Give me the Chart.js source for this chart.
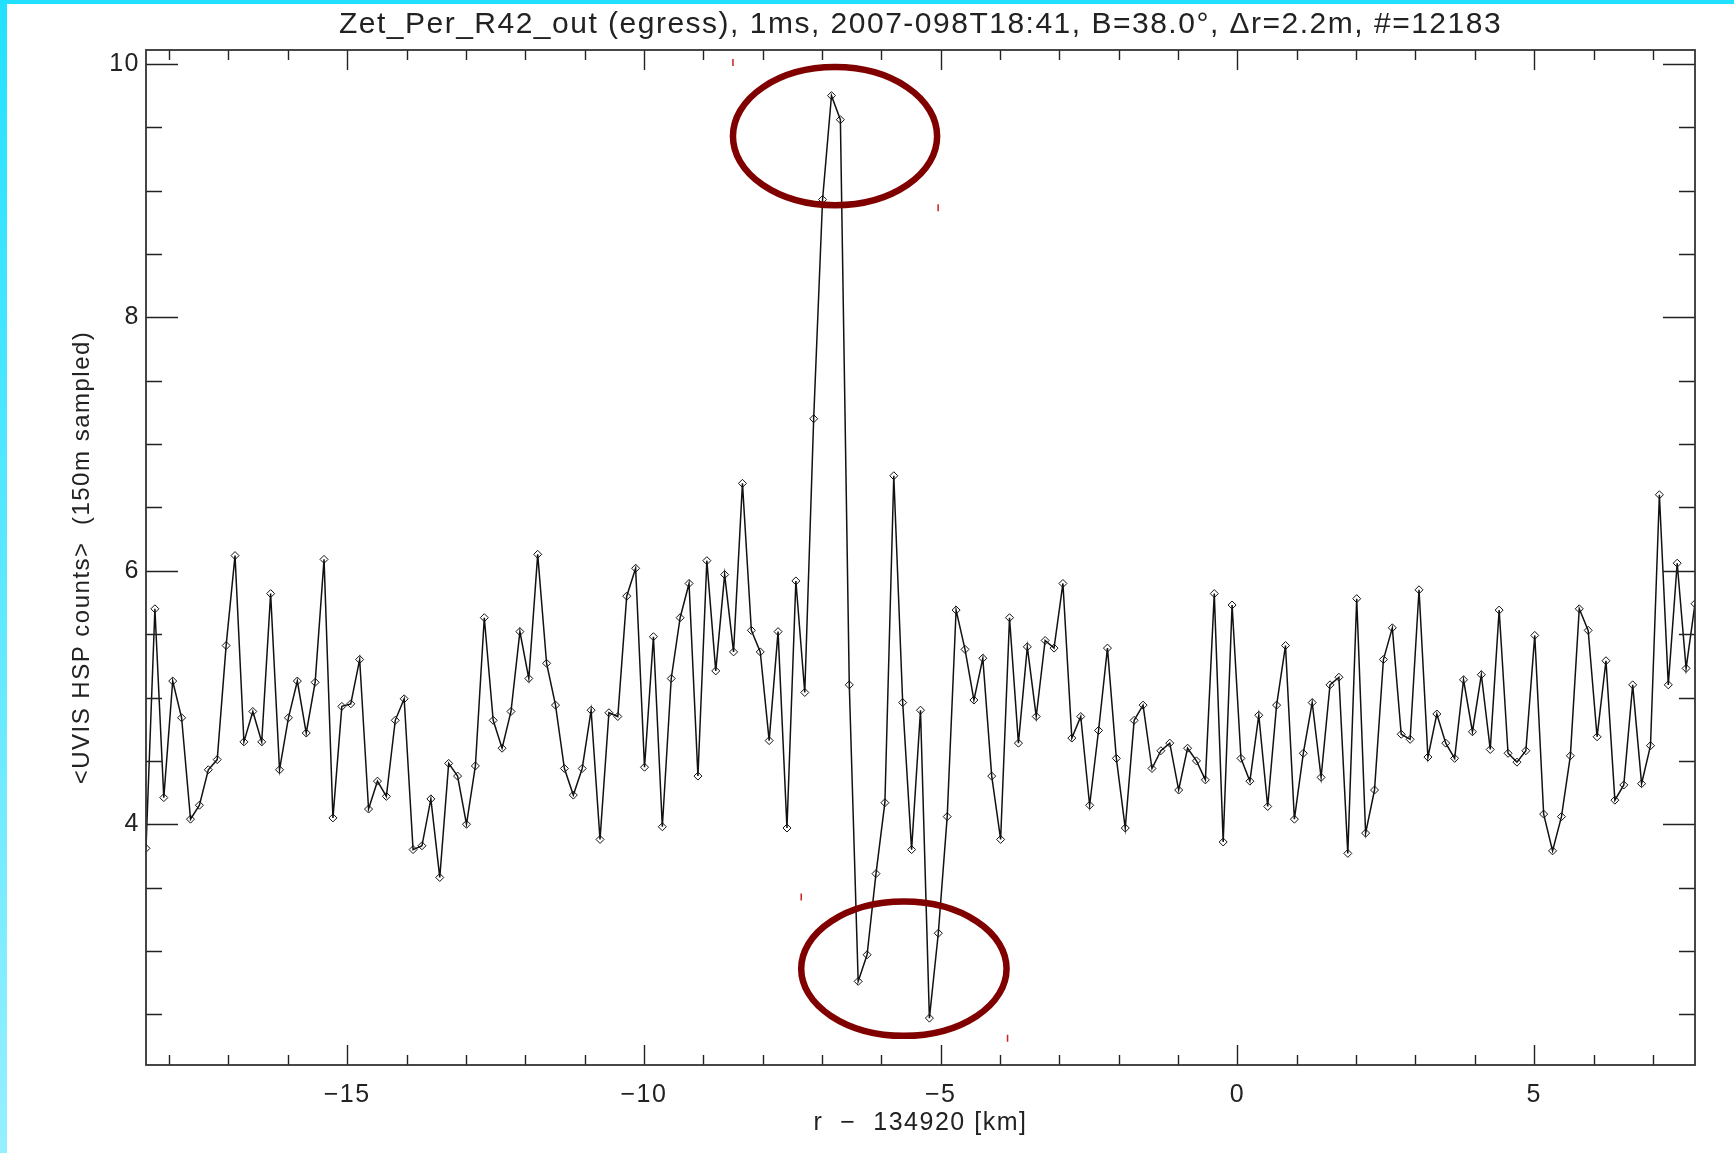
<!DOCTYPE html>
<html>
<head>
<meta charset="utf-8">
<script src="https://cdn.jsdelivr.net/npm/chart.js@4.4.0/dist/chart.umd.min.js"></script>
<style>
  html, body { margin: 0; padding: 0; background: #fff; overflow: hidden; }
  canvas { display: block; }
</style>
</head>
<body>
<canvas id="profile" width="1734" height="1153"></canvas>
<script>
// Radial position of each 150 m sample, r - 134920 km
const radiusKm = [
  -18.39, -18.24, -18.09, -17.94, -17.79, -17.64, -17.49, -17.34, -17.19, -17.04,
  -16.89, -16.74, -16.59, -16.44, -16.29, -16.14, -15.99, -15.84, -15.69, -15.54,
  -15.39, -15.24, -15.09, -14.94, -14.79, -14.64, -14.49, -14.34, -14.19, -14.04,
  -13.89, -13.74, -13.59, -13.44, -13.29, -13.14, -12.99, -12.84, -12.69, -12.54,
  -12.39, -12.24, -12.09, -11.94, -11.79, -11.64, -11.49, -11.34, -11.19, -11.04,
  -10.89, -10.74, -10.59, -10.44, -10.29, -10.14, -9.99, -9.84, -9.69, -9.54,
  -9.39, -9.24, -9.09, -8.94, -8.79, -8.64, -8.49, -8.34, -8.19, -8.04,
  -7.89, -7.74, -7.59, -7.44, -7.29, -7.14, -6.99, -6.84, -6.69, -6.54,
  -6.39, -6.24, -6.09, -5.94, -5.79, -5.64, -5.49, -5.34, -5.19, -5.04,
  -4.89, -4.74, -4.59, -4.44, -4.29, -4.14, -3.99, -3.84, -3.69, -3.54,
  -3.39, -3.24, -3.09, -2.94, -2.79, -2.64, -2.49, -2.34, -2.19, -2.04,
  -1.89, -1.74, -1.59, -1.44, -1.29, -1.14, -0.99, -0.84, -0.69, -0.54,
  -0.39, -0.24, -0.09, 0.06, 0.21, 0.36, 0.51, 0.66, 0.81, 0.96,
  1.11, 1.26, 1.41, 1.56, 1.71, 1.86, 2.01, 2.16, 2.31, 2.46,
  2.61, 2.76, 2.91, 3.06, 3.21, 3.36, 3.51, 3.66, 3.81, 3.96,
  4.11, 4.26, 4.41, 4.56, 4.71, 4.86, 5.01, 5.16, 5.31, 5.46,
  5.61, 5.76, 5.91, 6.06, 6.21, 6.36, 6.51, 6.66, 6.81, 6.96,
  7.11, 7.26, 7.41, 7.56, 7.71
];

// Mean UVIS HSP counts per sample
const hspCounts = [
  3.81, 5.70, 4.21, 5.13, 4.84, 4.04, 4.15, 4.43, 4.51, 5.41,
  6.12, 4.65, 4.89, 4.65, 5.82, 4.43, 4.84, 5.13, 4.72, 5.12,
  6.09, 4.05, 4.93, 4.95, 5.30, 4.12, 4.34, 4.22, 4.82, 4.99,
  3.80, 3.83, 4.20, 3.58, 4.48, 4.38, 4.00, 4.46, 5.63, 4.82,
  4.60, 4.89, 5.52, 5.15, 6.13, 5.27, 4.94, 4.44, 4.23, 4.44,
  4.90, 3.88, 4.88, 4.85, 5.80, 6.02, 4.45, 5.48, 3.98, 5.15,
  5.63, 5.90, 4.38, 6.08, 5.21, 5.97, 5.36, 6.69, 5.53, 5.36,
  4.66, 5.52, 3.97, 5.92, 5.04, 7.20, 8.93, 9.75, 9.56, 5.10,
  2.76, 2.97, 3.61, 4.17, 6.75, 4.96, 3.80, 4.90, 2.47, 3.14,
  4.06, 5.69, 5.38, 4.98, 5.31, 4.38, 3.88, 5.63, 4.64, 5.40,
  4.85, 5.45, 5.39, 5.90, 4.68, 4.85, 4.15, 4.74, 5.39, 4.52,
  3.97, 4.82, 4.94, 4.44, 4.58, 4.64, 4.27, 4.60, 4.50, 4.35,
  5.82, 3.86, 5.73, 4.52, 4.34, 4.86, 4.14, 4.94, 5.41, 4.04,
  4.56, 4.96, 4.37, 5.10, 5.16, 3.77, 5.78, 3.93, 4.27, 5.30,
  5.55, 4.71, 4.67, 5.85, 4.53, 4.87, 4.64, 4.52, 5.14, 4.73,
  5.18, 4.59, 5.69, 4.56, 4.49, 4.58, 5.49, 4.08, 3.79, 4.06,
  4.54, 5.70, 5.53, 4.69, 5.29, 4.19, 4.31, 5.10, 4.32, 4.62,
  6.60, 5.10, 6.06, 5.23, 5.74
];

// Axis extents and tick steps
const rRange = [-18.39, 7.71];
const countRange = [2.1, 10.11];
const rMajorStep = 5, rMinorStep = 1;
const countMajorStep = 2, countMinorStep = 0.5;

// Highlighted features: centre (r, counts) and half-widths (km, counts)
const highlightCentersR = [-6.78, -5.62];
const highlightCentersCounts = [9.43, 2.86];
const highlightHalfWidthR = [1.72, 1.73];
const highlightHalfHeightCounts = [0.545, 0.53];

const titleText = 'Zet_Per_R42_out (egress), 1ms, 2007-098T18:41, B=38.0\u00b0, \u0394r=2.2m, #=12183';
const xTitle = 'r  \u2212  134920 [km]';
const yTitle = '<UVIS HSP counts>  (150m sampled)';

const points = radiusKm.map((r, i) => ({ x: r, y: hspCounts[i] }));

const FONT = "'Liberation Sans', Arial, sans-serif";
const INK = '#222';

// Page frame, inward IDL-style ticks and ring annotations
const plotDecor = {
  id: 'plotDecor',
  beforeDraw(chart) {
    const { ctx, width, height } = chart;
    ctx.save();
    ctx.fillStyle = '#fff';
    ctx.fillRect(0, 0, width, height);
    const g = ctx.createLinearGradient(0, 0, 0, height);
    g.addColorStop(0, '#22e1ff');
    g.addColorStop(1, '#95efff');
    ctx.fillStyle = g;
    ctx.fillRect(0, 0, 7, height);
    ctx.fillStyle = '#22e1ff';
    ctx.fillRect(0, 0, width, 4);
    ctx.restore();
    // the plot's lettering is widely spaced
    ctx.letterSpacing = '1.5px';
  },
  afterDatasetsDraw(chart) {
    const { ctx, chartArea: { left, right, top, bottom }, scales: { x, y } } = chart;
    ctx.save();
    ctx.strokeStyle = INK;
    ctx.lineWidth = 1.4;
    ctx.beginPath();
    const xMajorLen = 20, yMajorLen = 32;
    for (let v = Math.ceil(x.min / rMinorStep) * rMinorStep; v <= x.max + 1e-9; v += rMinorStep) {
      const px = Math.round(x.getPixelForValue(v)) + 0.5;
      const major = Math.abs(v / rMajorStep - Math.round(v / rMajorStep)) < 1e-6;
      const len = major ? xMajorLen : xMajorLen / 2;
      ctx.moveTo(px, bottom); ctx.lineTo(px, bottom - len);
      ctx.moveTo(px, top); ctx.lineTo(px, top + len);
    }
    for (let v = Math.ceil(y.min / countMinorStep) * countMinorStep; v <= y.max + 1e-9; v += countMinorStep) {
      const py = Math.round(y.getPixelForValue(v)) + 0.5;
      const major = Math.abs(v / countMajorStep - Math.round(v / countMajorStep)) < 1e-6;
      const len = major ? yMajorLen : yMajorLen / 2;
      ctx.moveTo(left, py); ctx.lineTo(left + len, py);
      ctx.moveTo(right, py); ctx.lineTo(right - len, py);
    }
    ctx.stroke();
    ctx.lineWidth = 1.8;
    ctx.strokeStyle = '#333';
    ctx.strokeRect(left, top, right - left, bottom - top);

    // ring annotations
    highlightCentersR.forEach((cr, i) => {
      const cx = x.getPixelForValue(cr);
      const cy = y.getPixelForValue(highlightCentersCounts[i]);
      const rx = Math.abs(x.getPixelForValue(cr + highlightHalfWidthR[i]) - cx);
      const ry = Math.abs(y.getPixelForValue(highlightCentersCounts[i] + highlightHalfHeightCounts[i]) - cy);
      ctx.strokeStyle = '#800000';
      ctx.lineWidth = 6.5;
      ctx.beginPath();
      ctx.ellipse(cx, cy, rx, ry, 0, 0, Math.PI * 2);
      ctx.stroke();
      // small corner marks of the ring's bounding box
      ctx.strokeStyle = '#d02020';
      ctx.lineWidth = 1.5;
      ctx.beginPath();
      ctx.moveTo(cx - rx, cy - ry - 8); ctx.lineTo(cx - rx, cy - ry - 1);
      ctx.moveTo(cx + rx + 1, cy + ry - 1); ctx.lineTo(cx + rx + 1, cy + ry + 6);
      ctx.stroke();
    });
    ctx.restore();
  }
};

const signed = v => (v < 0 ? '\u2212' + Math.abs(v) : String(v));

new Chart(document.getElementById('profile'), {
  type: 'line',
  data: {
    datasets: [{
      data: points,
      borderColor: '#111',
      borderWidth: 1.5,
      tension: 0,
      fill: false,
      clip: 0,
      pointStyle: 'rectRot',
      pointRadius: 4,
      pointBorderWidth: 1,
      pointBorderColor: '#111',
      pointBackgroundColor: 'rgba(0,0,0,0)'
    }]
  },
  options: {
    responsive: false,
    animation: false,
    devicePixelRatio: 1,
    layout: { padding: { left: 0, right: 39, top: 0, bottom: 0 } },
    plugins: {
      legend: { display: false },
      tooltip: { enabled: false },
      title: {
        display: true,
        text: titleText,
        fullSize: false,
        color: INK,
        font: { family: FONT, size: 30, weight: 'normal', lineHeight: 1.2 },
        padding: { top: 7, bottom: 7 }
      }
    },
    scales: {
      x: {
        type: 'linear',
        min: rRange[0],
        max: rRange[1],
        grid: { display: false, drawTicks: false },
        border: { display: false },
        ticks: {
          stepSize: rMajorStep,
          includeBounds: false,
          padding: 15,
          color: INK,
          font: { family: FONT, size: 25, lineHeight: 1.2 },
          callback: signed
        },
        title: {
          display: true,
          text: xTitle,
          color: INK,
          font: { family: FONT, size: 25, lineHeight: 1.2 },
          padding: { top: 0, bottom: 15 }
        },
        afterFit: s => { s.height = 88; }
      },
      y: {
        type: 'linear',
        min: countRange[0],
        max: countRange[1],
        grid: { display: false, drawTicks: false },
        border: { display: false },
        ticks: {
          stepSize: countMajorStep,
          includeBounds: false,
          padding: 6,
          color: INK,
          font: { family: FONT, size: 25, lineHeight: 1.2 },
          callback: signed
        },
        title: {
          display: true,
          text: yTitle,
          color: INK,
          font: { family: FONT, size: 24, lineHeight: 1.2 },
          padding: { top: 68, bottom: 0 }
        },
        afterFit: s => { s.width = 146; }
      }
    }
  },
  plugins: [plotDecor]
});
</script>
</body>
</html>
